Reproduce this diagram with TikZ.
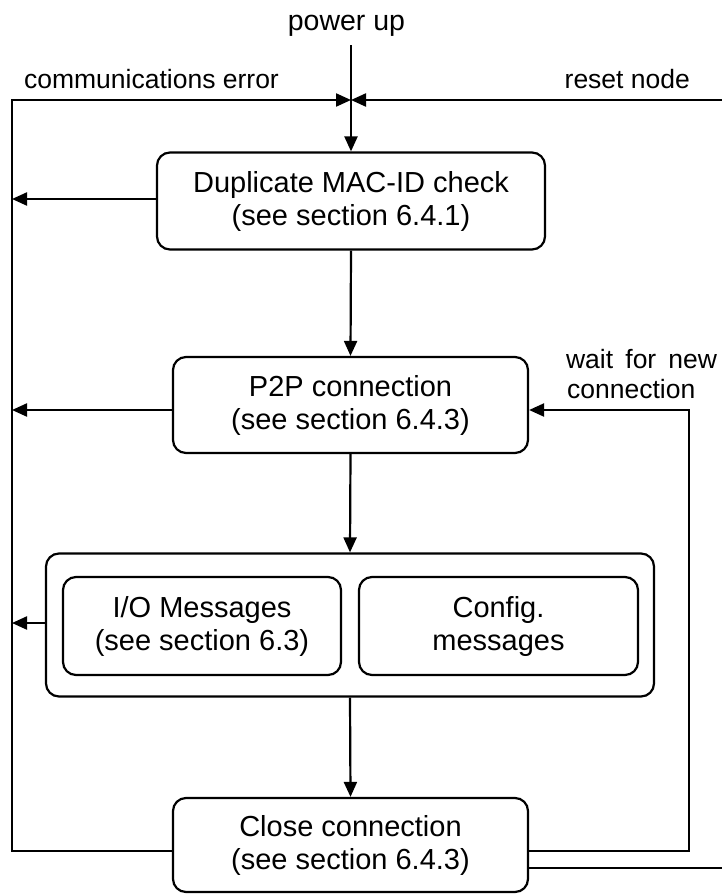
\documentclass[tikz,border=0pt]{standalone}
\usepackage{fontspec}
\setmainfont{Liberation Sans}
\usetikzlibrary{arrows.meta,calc}
\newcommand{\myfs}{\fontsize{29}{33}\selectfont}
\newcommand{\mylabfs}{\fontsize{26.5}{30}\selectfont}
\begin{document}
\begin{tikzpicture}[x=1pt,y=-1pt,line width=2.2pt,
  box/.style={draw,rounded corners=13pt,align=center,inner sep=0pt,font=\myfs},
  lab/.style={font=\mylabfs,inner sep=0pt},
  arr/.style={-{Triangle[length=15pt,width=13pt]}}]
\useasboundingbox (0,0) rectangle (722,894);
% boxes
\node[box,minimum width=388pt,minimum height=97pt] (dup) at (351,201) {Duplicate MAC-ID check\\(see section 6.4.1)};
\node[box,minimum width=355pt,minimum height=96pt] (p2p) at (350.5,405) {P2P connection\\(see section 6.4.3)};
\node[box,minimum width=608pt,minimum height=143pt] (outer) at (350,625) {};
\node[box,minimum width=278pt,minimum height=98pt] (io) at (202,626) {I/O Messages\\(see section 6.3)};
\node[box,minimum width=279pt,minimum height=98pt] (cfg) at (498.5,626) {Config.\\messages};
\node[box,minimum width=355pt,minimum height=94pt] (close) at (350.5,845) {Close connection\\(see section 6.4.3)};
% labels
\node[lab,font=\fontsize{28.5}{32}\selectfont,anchor=base] (pu) at (346.5,30) {power up};
\node[lab,anchor=base west] (ce) at (23,88) {communications error};
\node[lab,anchor=base east] (rn) at (691,88) {reset node};
\node[lab,anchor=base west] (w1) at (565,368) {\makebox[151pt][s]{wait for new}};
\node[lab,anchor=base west] (w2) at (566,398) {connection};
% coordinates
\coordinate (top) at (351,45);
\coordinate (meet) at (351,100);
\coordinate (tl) at (12,100);
\coordinate (tr) at (722,100);
\coordinate (bl) at (12,851);
\coordinate (br) at (689,851);
\coordinate (er) at (722,868);
% connectors
\draw[arr] (top) -- (dup.north);
\draw[arr] (tr) -- (meet);
\draw[arr] ($(close.west)+(0,6)$) -- (bl) -- (tl) -- (meet);
\draw[arr] ($(dup.west)+(0,-2)$) -- ($(dup.west -| tl)+(0,-2)$);
\draw[arr] ($(p2p.west)+(0,5)$) -- ($(p2p.west -| tl)+(0,5)$);
\draw[arr] ($(outer.west)+(0,-2)$) -- ($(outer.west -| tl)+(0,-2)$);
\draw[arr] (dup.south) -- (p2p.north);
\draw[arr] (p2p.south) -- (outer.north);
\draw[arr] (outer.south) -- (close.north);
\draw[arr] ($(close.east)+(0,6)$) -- (br) -- ($(br |- p2p.east)+(0,5)$) -- ($(p2p.east)+(0,5)$);
\draw ($(close.east)+(0,23)$) -- (er);
\end{tikzpicture}
\end{document}
